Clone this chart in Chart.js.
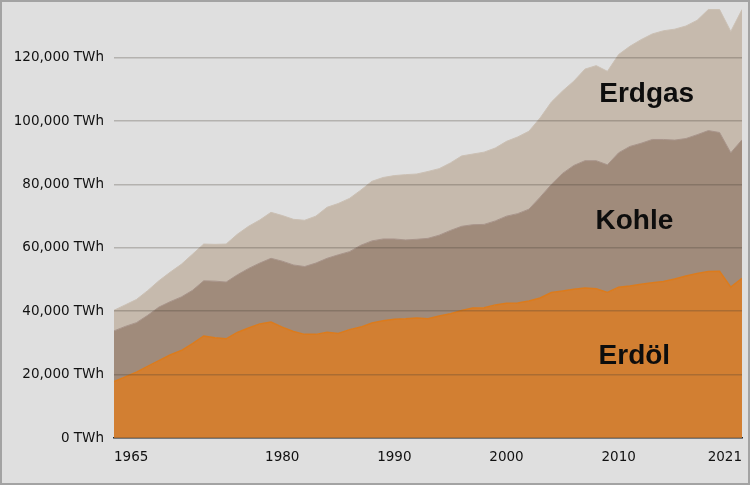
<!DOCTYPE html>
<html>
<head>
<meta charset="utf-8">
<script src="https://cdn.jsdelivr.net/npm/chart.js@4"></script>
<style>
  html, body { margin: 0; padding: 0; background: #dfdfdf; }
  #wrap { width: 750px; height: 485px; }
</style>
</head>
<body>
<div id="wrap"><canvas id="energieChart" width="750" height="485"></canvas></div>
<script>
// Jahre und Werte (TWh)
const jahre = [];
for (let j = 1965; j <= 2021; j++) jahre.push(j);

const erdoel = [
  17800, 19300, 20800, 22600, 24400, 26200, 27600, 29800, 32200, 31600,
  31300, 33300, 34700, 36000, 36600, 35000, 33600, 32700, 32700, 33400,
  33000, 34200, 35000, 36300, 37000, 37500, 37600, 37900, 37600, 38500,
  39200, 40200, 41000, 41100, 42000, 42500, 42600, 43200, 44200, 45900,
  46400, 46900, 47300, 47100, 45900, 47600, 48000, 48500, 49000, 49400,
  50200, 51100, 51900, 52500, 52600, 47600, 50400
];
const kohle = [
  16000, 15900, 15600, 16100, 16900, 16800, 16900, 16800, 17400, 17900,
  17900, 18200, 18800, 19200, 20100, 20800, 21000, 21400, 22500, 23300,
  24800, 24600, 25800, 25900, 25800, 25300, 24900, 24800, 25400, 25500,
  26300, 26600, 26300, 26300, 26500, 27500, 28200, 29000, 31800, 34100,
  37100, 39100, 40200, 40400, 40300, 42400, 44000, 44500, 45200, 44800,
  43800, 43400, 43800, 44500, 43800, 42400, 43700
];
const erdgas = [
  6500, 6800, 7300, 7800, 8300, 9300, 10300, 11400, 11600, 11600,
  12000, 12800, 13300, 13600, 14500, 14400, 14400, 14600, 14800, 16100,
  16200, 16800, 17400, 18800, 19400, 20000, 20600, 20600, 21100, 21000,
  21300, 22200, 22300, 22800, 23000, 23600, 24200, 24600, 25000, 26000,
  26000, 26600, 28900, 30000, 29500, 31000, 31600, 32700, 33300, 34300,
  35000, 35500, 36100, 38200, 38800, 38300, 41100
];

const xTicks = [1965, 1980, 1990, 2000, 2010, 2021];
const yTicks = [0, 20000, 40000, 60000, 80000, 100000, 120000];

// Beschriftungen in den Flächen (Jahr, Wert)
const flaechenText = [
  { text: "Erdgas", jahr: 2012.5, wert: 108600 },
  { text: "Kohle", jahr: 2011.4, wert: 68400 },
  { text: "Erdöl", jahr: 2011.4, wert: 25800 }
];

const punkte = arr => jahre.map((j, i) => ({ x: j, y: arr[i] }));

const hintergrund = {
  id: "hintergrund",
  beforeDraw(chart) {
    const c = chart.ctx;
    c.save();
    c.fillStyle = "#dfdfdf";
    c.fillRect(0, 0, chart.width, chart.height);
    c.restore();
  },
  afterDraw(chart) {
    const c = chart.ctx;
    const x = chart.scales.x, y = chart.scales.y;
    c.save();
    c.fillStyle = "#0d0d0d";
    c.font = "bold 28px 'Liberation Sans', Arial, sans-serif";
    c.textAlign = "center";
    c.textBaseline = "middle";
    flaechenText.forEach(t => {
      c.fillText(t.text, x.getPixelForValue(t.jahr), y.getPixelForValue(t.wert));
    });
    // Rahmen
    c.strokeStyle = "#a3a3a3";
    c.lineWidth = 2;
    c.strokeRect(1, 1, chart.width - 2, chart.height - 2);
    c.restore();
  }
};

new Chart(document.getElementById("energieChart"), {
  type: "line",
  data: {
    datasets: [{
      label: "Erdöl",
      data: punkte(erdoel),
      backgroundColor: "#d27f32",
      borderColor: "#dc7b1c",
      borderWidth: 1.5,
      fill: "origin"
    }, {
      label: "Kohle",
      data: punkte(kohle),
      backgroundColor: "#a08b7b",
      borderColor: "#a8948a",
      borderWidth: 1,
      fill: "-1"
    }, {
      label: "Erdgas",
      data: punkte(erdgas),
      backgroundColor: "#c6baad",
      borderColor: "#cbc0b4",
      borderWidth: 1,
      fill: "-1"
    }]
  },
  options: {
    responsive: false,
    animation: false,
    layout: { padding: { top: 7, right: 8, bottom: 0, left: 0 } },
    elements: { point: { radius: 0 }, line: { tension: 0 } },
    plugins: {
      legend: { display: false },
      tooltip: { enabled: false }
    },
    scales: {
      x: {
        type: "linear",
        min: 1965,
        max: 2021,
        afterBuildTicks: s => { s.ticks = xTicks.map(v => ({ value: v })); },
        afterFit: s => { s.height = 47; s.paddingLeft = 0; s.paddingRight = 0; },
        grid: { display: false },
        border: { display: true, color: "#1c2a38", width: 1.5 },
        ticks: {
          align: "inner",
          autoSkip: false,
          maxRotation: 0,
          padding: 3,
          color: "#111",
          font: { family: "'DejaVu Sans', sans-serif", size: 13.5 },
          callback: v => String(v)
        }
      },
      y: {
        stacked: true,
        min: 0,
        max: 136000,
        afterBuildTicks: s => { s.ticks = yTicks.map(v => ({ value: v })); },
        afterFit: s => { s.width = 114; s.paddingTop = 0; s.paddingBottom = 0; },
        grid: { color: "rgba(70,60,50,0.28)", lineWidth: 1.5, drawTicks: false, z: 1 },
        border: { display: false },
        ticks: {
          padding: 10,
          color: "#111",
          font: { family: "'DejaVu Sans', sans-serif", size: 13.5 },
          callback: v => v.toLocaleString("en-US") + " TWh"
        }
      }
    }
  },
  plugins: [hintergrund]
});
</script>
</body>
</html>
